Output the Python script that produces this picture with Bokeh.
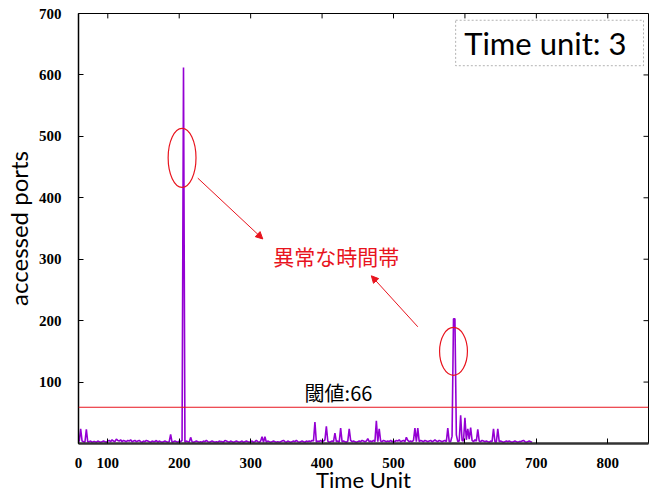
from bokeh.plotting import figure
from bokeh.models import (Range1d, FixedTicker, Span, Label,
                          BoxAnnotation, Arrow, NormalHead)
from bokeh.embed import file_html
from bokeh.resources import INLINE

# ---------------- data ----------------
time_start = 60
time_step = 2
baseline_ports = [
    3, 2, 4, 3, 2, 3, 2, 3, 4, 2, 3, 3, 2, 4, 3, 2, 3, 4, 3, 2,
    4, 5, 3, 6, 4, 3, 7, 5, 4, 6, 3, 5, 4, 3, 5, 4, 6, 3, 4, 5,
    3, 4, 5, 3, 2, 4, 3, 5, 4, 3, 2, 4, 3, 3, 5, 2, 4, 3, 2, 3,
    4, 3, 2, 3, 5, 2, 3, 4, 3, 2, 4, 3, 5, 3, 2, 4, 3, 2, 4, 3,
    2, 3, 4, 3, 2, 3, 2, 4, 3, 5, 3, 2, 3, 4, 3, 2, 3, 2, 4, 3,
    3, 2, 5, 4, 3, 2, 4, 3, 2, 3, 4, 3, 2, 3, 4, 2, 3, 4, 3, 2,
    3, 4, 2, 3, 5, 3, 2, 4, 3, 2, 3, 2, 4, 3, 2, 3, 4, 3, 2, 3,
    2, 3, 4, 5, 3, 2, 4, 3, 2, 3, 4, 3, 5, 3, 2, 3, 4, 3, 2, 4,
    3, 4, 3, 5, 4, 3, 2, 4, 3, 5, 3, 4, 6, 3, 4, 2, 3, 4, 3, 5,
    3, 4, 2, 5, 3, 4, 3, 2, 4, 3, 5, 3, 4, 3, 2, 3, 4, 3, 5, 4,
    3, 4, 5, 3, 4, 3, 5, 3, 4, 3, 2, 4, 3, 5, 4, 3, 4, 3, 5, 3,
    4, 3, 5, 4, 6, 3, 4, 5, 3, 4, 5, 3, 4, 3, 5, 4, 3, 4, 3, 5,
    4, 3, 5, 4, 3, 4, 5, 3, 4, 6, 4, 3, 5, 4, 3, 4, 5, 3, 4, 3,
    3, 5, 4, 3, 2, 3, 4, 6, 5, 4, 3, 6, 5, 7, 4, 5, 3, 6, 4, 5,
    4, 3, 5, 4, 3, 4, 3, 2, 4, 3, 4, 3, 2, 4, 3, 4, 3, 2, 3, 4,
    3, 4, 3, 2, 3, 4, 3, 2, 3, 3, 4, 5, 3, 2, 3, 4, 3, 2,
]
spike_times = [62, 70, 188, 206, 216, 316, 320, 390, 406, 418, 426, 438,
               464, 476, 480, 518, 530, 534, 576, 582, 584, 586, 588, 594,
               600, 604, 608, 618, 640, 646]
spike_ports = [24, 23, 15, 612, 10, 11, 11, 35, 28, 17, 25, 24,
               8, 37, 24, 10, 25, 25, 25, 12, 203, 203, 14, 46,
               42, 24, 26, 23, 24, 24]

threshold_line = 59
threshold_text = "閾値:66"
anomaly_text = "異常な時間帯"
box_text = "Time unit: 3"

x_min, x_max = 59, 857
y_min, y_max = 0, 700
x_ticks = [59, 100, 200, 300, 400, 500, 600, 700, 800]
x_tick_labels = ["0", "100", "200", "300", "400", "500", "600", "700", "800"]
y_ticks = [100, 200, 300, 400, 500, 600, 700]

# anomaly ellipses (centre x, centre y, width, height) in data units
ell_x = [204, 584]
ell_y = [465, 150]
ell_w = [39, 39]
ell_h = [96, 78]

time = [time_start + time_step * i for i in range(len(baseline_ports))]
ports = list(baseline_ports)
for t, v in zip(spike_times, spike_ports):
    ports[(t - time_start) // time_step] = v

# ---------------- figure ----------------
p = figure(width=657, height=496, output_backend="svg", toolbar_location=None,
           x_range=Range1d(x_min, x_max), y_range=Range1d(y_min, y_max),
           min_border_left=77, min_border_right=9, min_border_top=13,
           min_border_bottom=53)
p.grid.visible = False
p.outline_line_color = "black"
p.outline_line_width = 1
p.background_fill_color = "white"
p.border_fill_color = "white"

tick_font = "Liberation Serif"
for ax in (p.xaxis[0], p.yaxis[0]):
    ax.major_label_text_font = tick_font
    ax.major_label_text_font_style = "bold"
    ax.major_label_text_font_size = "15px"
    ax.major_label_text_color = "black"
    ax.major_tick_in = 5
    ax.major_tick_out = 0
    ax.major_tick_line_color = "black"
    ax.minor_tick_line_color = None
    ax.axis_line_color = "black"
    ax.axis_label_text_font = "Lato"
    ax.axis_label_text_font_style = "normal"
    ax.axis_label_text_color = "black"

p.xaxis.ticker = FixedTicker(ticks=x_ticks)
p.xaxis.major_label_overrides = dict(zip(x_ticks, x_tick_labels))
p.xaxis.major_label_standoff = 14
p.xaxis.axis_line_width = 2.5
p.xaxis.axis_line_color = "#333333"
p.xaxis.axis_label = "Time Unit"
p.xaxis.axis_label_text_font_size = "22px"
p.xaxis.axis_label_standoff = -5

p.yaxis.ticker = FixedTicker(ticks=y_ticks)
p.yaxis.major_label_standoff = 17
p.yaxis.axis_line_width = 1.5
p.yaxis.axis_label = "accessed ports"
p.yaxis.axis_label_text_font_size = "24px"
p.yaxis.axis_label_standoff = 3

# inward tick marks on the top and right edges of the frame
top_len = 8
right_len = 7
p.segment(x0=x_ticks[1:], y0=[y_max] * (len(x_ticks) - 1),
          x1=x_ticks[1:], y1=[y_max - top_len] * (len(x_ticks) - 1),
          line_color="black", line_width=1)
p.segment(x0=[x_max] * len(y_ticks), y0=y_ticks,
          x1=[x_max - right_len] * len(y_ticks), y1=y_ticks,
          line_color="black", line_width=1)

# data
p.line(time, ports, line_color="#9400D3", line_width=1.6)

# threshold
p.add_layout(Span(location=threshold_line, dimension="width",
                  line_color="#e8141e", line_width=1))
p.add_layout(Label(x=423, y=83, text=threshold_text, text_align="center",
                   text_baseline="middle", text_font="Noto Sans CJK JP",
                   text_font_size="20px", text_color="black"))

# anomaly markers
p.ellipse(x=ell_x, y=ell_y, width=ell_w, height=ell_h, fill_color=None,
          line_color="#e8141e", line_width=1.2)
p.add_layout(Arrow(end=NormalHead(size=7, fill_color="#e8141e", line_color="#e8141e"),
                   x_start=226, y_start=432, x_end=317, y_end=333,
                   line_color="#e8141e", line_width=1))
p.add_layout(Arrow(end=NormalHead(size=7, fill_color="#e8141e", line_color="#e8141e"),
                   x_start=534, y_start=190, x_end=469, y_end=273,
                   line_color="#e8141e", line_width=1))
p.add_layout(Label(x=420, y=306, text=anomaly_text, text_align="center",
                   text_baseline="middle", text_font="Noto Sans CJK JP",
                   text_font_size="21px", text_color="#e8141e"))

# time unit box
p.add_layout(BoxAnnotation(left=587, right=850, bottom=615, top=689,
                           fill_color=None, fill_alpha=0, line_color="black",
                           line_dash="2 2", line_width=1))
p.add_layout(Label(x=599, y=652, text=box_text, text_align="left",
                   text_baseline="middle", text_font="Lato",
                   text_font_size="31px", text_color="black"))

open("out.html", "w").write(file_html(p, INLINE))
